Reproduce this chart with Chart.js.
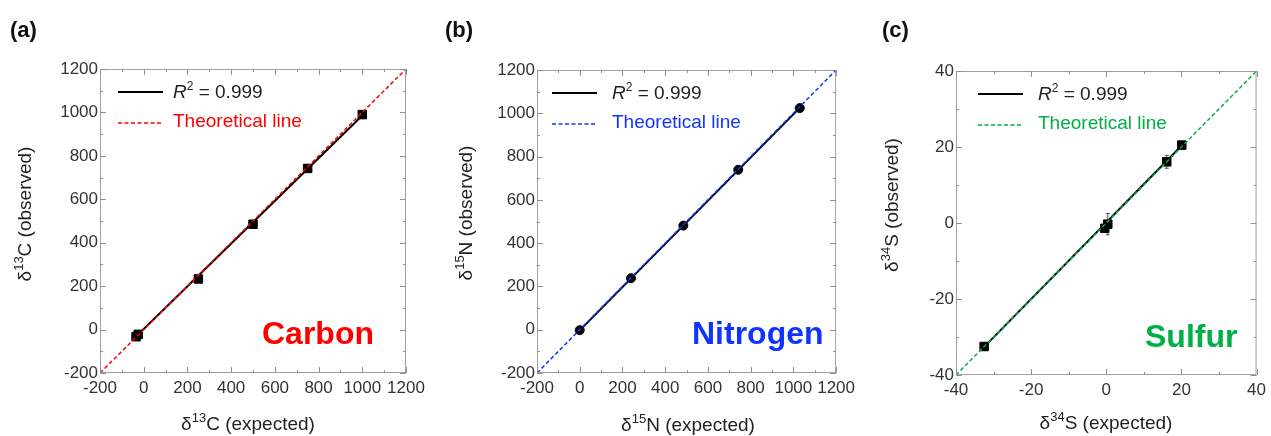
<!DOCTYPE html>
<html>
<head>
<meta charset="utf-8">
<script src="https://cdn.jsdelivr.net/npm/chart.js@4.4.0/dist/chart.umd.min.js"></script>
<style>
  body { margin: 0; background: #fff; width: 1271px; height: 436px; overflow: hidden; position: relative; }
  canvas { position: absolute; top: 0; }
</style>
</head>
<body>
<canvas id="chartC" width="430" height="436" style="left:0"></canvas>
<canvas id="chartN" width="430" height="436" style="left:430px"></canvas>
<canvas id="chartS" width="411" height="436" style="left:860px"></canvas>
<script>
// --- data ---
const carbonX = [-35, -25, 250, 500, 750, 1000];
const carbonY = [-33, -22, 233, 485, 742, 990];
const carbonErr = [6, 6, 15, 8, 8, 15];
const carbonFitX = [-35, 1000];
const carbonFitY = [-32, 986];

const nitrogenX = [0, 240, 485, 742, 1030];
const nitrogenY = [-2, 238, 481, 739, 1024];
const nitrogenErr = [4, 4, 4, 4, 4];
const nitrogenFitX = [0, 1030];
const nitrogenFitY = [-3, 1025];

const sulfurX = [-32.5, -0.4, 0.4, 16.1, 20.1];
const sulfurY = [-32.5, -1.4, -0.3, 16.1, 20.5];
const sulfurErr = [1, 1, 2.8, 1.7, 0.6];
const sulfurFitX = [-32.5, 20.3];
const sulfurFitY = [-32.6, 20.6];

const deltaRange = [-200, 1200];   // carbon / nitrogen axes
const deltaStep = [100, 200];      // minor, major
const sulfurRange = [-40, 40];
const sulfurStep = [10, 20];

const r2Text = "0.999";
const theoText = "Theoretical line";

const FONT = "'Liberation Sans', Arial, Helvetica, sans-serif";
Chart.defaults.font.family = FONT;

function pts(xs, ys) { return xs.map((x, i) => ({ x: x, y: ys[i] })); }

// draw text made of parts (normal / italic / superscript)
function richText(ctx, parts, x, y, align) {
  let w = 0;
  parts.forEach(p => { ctx.font = p.font; w += ctx.measureText(p.t).width; });
  let cx = align === "center" ? x - w / 2 : x;
  ctx.textBaseline = "middle";
  ctx.textAlign = "left";
  parts.forEach(p => {
    ctx.font = p.font;
    ctx.fillText(p.t, cx, y + (p.dy || 0));
    cx += ctx.measureText(p.t).width;
  });
}

function isoParts(mass, elem, rest, size) {
  return [
    { t: "\u03B4", font: size + "px " + FONT },
    { t: mass, font: Math.round(size * 0.66) + "px " + FONT, dy: -size * 0.33 },
    { t: elem + " " + rest, font: size + "px " + FONT }
  ];
}

function makePanel(id, p) {
  const decoPlugin = {
    id: "deco" + id,
    beforeDatasetsDraw(chart) {
      const ctx = chart.ctx, xs = chart.scales.x, ys = chart.scales.y;
      ctx.save();
      ctx.strokeStyle = "#555";
      ctx.lineWidth = 1;
      p.xs.forEach((x, i) => {
        const px = xs.getPixelForValue(x);
        const y1 = ys.getPixelForValue(p.ys[i] - p.errs[i]);
        const y2 = ys.getPixelForValue(p.ys[i] + p.errs[i]);
        ctx.beginPath();
        ctx.moveTo(px, y1); ctx.lineTo(px, y2);
        ctx.moveTo(px - 2, y1); ctx.lineTo(px + 2, y1);
        ctx.moveTo(px - 2, y2); ctx.lineTo(px + 2, y2);
        ctx.stroke();
      });
      ctx.restore();
    },
    afterDraw(chart) {
      const ctx = chart.ctx, a = chart.chartArea;
      const xs = chart.scales.x, ys = chart.scales.y;
      ctx.save();
      // frame
      ctx.strokeStyle = "#a0a0a0";
      ctx.lineWidth = 1;
      ctx.strokeRect(a.left + 0.5, a.top + 0.5, a.right - a.left - 1, a.bottom - a.top - 1);
      // inward ticks on all four sides
      ctx.strokeStyle = "#909090";
      ctx.beginPath();
      xs.ticks.forEach(t => {
        const len = t.value % p.step[1] === 0 ? 6 : 3;
        const px = Math.round(xs.getPixelForValue(t.value)) + 0.5;
        ctx.moveTo(px, a.bottom); ctx.lineTo(px, a.bottom - len);
        ctx.moveTo(px, a.top); ctx.lineTo(px, a.top + len);
      });
      ys.ticks.forEach(t => {
        const len = t.value % p.step[1] === 0 ? 6 : 3;
        const py = Math.round(ys.getPixelForValue(t.value)) + 0.5;
        ctx.moveTo(a.left, py); ctx.lineTo(a.left + len, py);
        ctx.moveTo(a.right, py); ctx.lineTo(a.right - len, py);
      });
      ctx.stroke();

      // legend
      const ly1 = a.top + 23, ly2 = a.top + 54;
      ctx.strokeStyle = "#000";
      ctx.lineWidth = 2;
      ctx.beginPath();
      ctx.moveTo(a.left + p.legX, ly1); ctx.lineTo(a.left + p.legX + 45, ly1);
      ctx.stroke();
      ctx.strokeStyle = p.color;
      ctx.lineWidth = 1.5;
      ctx.setLineDash([4, 2.5]);
      ctx.beginPath();
      ctx.moveTo(a.left + p.legX, ly2); ctx.lineTo(a.left + p.legX + 45, ly2);
      ctx.stroke();
      ctx.setLineDash([]);
      ctx.fillStyle = "#222";
      richText(ctx, [
        { t: "R", font: "italic 19px " + FONT },
        { t: "2", font: "12px " + FONT, dy: -6 },
        { t: " = " + r2Text, font: "19px " + FONT }
      ], a.left + p.legTextX, ly1 + 1, "left");
      ctx.fillStyle = p.color;
      richText(ctx, [{ t: theoText, font: "19px " + FONT }], a.left + p.legTextX, ly2 - 1, "left");

      // element label
      ctx.fillStyle = p.color;
      richText(ctx, [{ t: p.element, font: "bold 32px " + FONT }], p.elemX, p.elemY, "left");

      // axis titles
      ctx.fillStyle = "#222";
      richText(ctx, isoParts(p.mass, p.sym, "(expected)", 19), p.xTitleX, p.xTitleY, "center");
      ctx.save();
      ctx.translate(p.yTitleX, p.yTitleY);
      ctx.rotate(-Math.PI / 2);
      richText(ctx, isoParts(p.mass, p.sym, "(observed)", 19), 0, 0, "center");
      ctx.restore();

      // panel label
      ctx.fillStyle = "#111";
      richText(ctx, [{ t: p.panel, font: "bold 22px " + FONT }], p.panelX, 31, "left");
      ctx.restore();
    }
  };

  const tickCb = v => (v % p.step[1] === 0 ? String(v) : "");
  const axis = (which) => ({
    type: "linear",
    min: p.range[0],
    max: p.range[1],
    grid: { display: false, drawTicks: false },
    border: { display: false },
    afterFit: which === "x" ? (s => { s.height = p.xH; }) : (s => { s.width = p.yW; }),
    ticks: {
      stepSize: p.step[0],
      autoSkip: false,
      maxRotation: 0,
      padding: which === "x" ? 5 : 2,
      color: "#333",
      font: { size: 17 },
      callback: tickCb
    }
  });

  return new Chart(document.getElementById(id), {
    type: "scatter",
    data: {
      datasets: [
        {
          data: pts(p.range, p.range),
          showLine: true,
          borderColor: p.color,
          borderWidth: 1.5,
          borderDash: [4, 2.5],
          pointRadius: 0
        },
        {
          data: pts(p.fitX, p.fitY),
          showLine: true,
          borderColor: "#000",
          borderWidth: 2,
          pointRadius: 0
        },
        {
          data: pts(p.xs, p.ys),
          pointStyle: p.marker,
          pointRadius: p.marker === "rect" ? 6 : 4.5,
          backgroundColor: "#000",
          borderColor: "#000",
          borderWidth: 1
        }
      ]
    },
    options: {
      responsive: false,
      animation: false,
      layout: { padding: { left: 0, top: p.top, right: p.padR, bottom: 0 } },
      plugins: { legend: { display: false }, tooltip: { enabled: false } },
      scales: { x: axis("x"), y: axis("y") }
    },
    plugins: [decoPlugin]
  });
}

makePanel("chartC", {
  xs: carbonX, ys: carbonY, errs: carbonErr, fitX: carbonFitX, fitY: carbonFitY,
  range: deltaRange, step: deltaStep, color: "#ff0000", marker: "rect",
  element: "Carbon", mass: "13", sym: "C", panel: "(a)", panelX: 10,
  top: 69, padR: 24, yW: 100, xH: 63,
  legX: 18, legTextX: 73, elemX: 262, elemY: 335,
  xTitleX: 248, xTitleY: 425, yTitleX: 26, yTitleY: 214
});

makePanel("chartN", {
  xs: nitrogenX, ys: nitrogenY, errs: nitrogenErr, fitX: nitrogenFitX, fitY: nitrogenFitY,
  range: deltaRange, step: deltaStep, color: "#1034ff", marker: "circle",
  element: "Nitrogen", mass: "15", sym: "N", panel: "(b)", panelX: 15,
  top: 70, padR: 19, yW: 107, xH: 63,
  legX: 15, legTextX: 75, elemX: 262, elemY: 335,
  xTitleX: 258, xTitleY: 426, yTitleX: 37, yTitleY: 213
});

makePanel("chartS", {
  xs: sulfurX, ys: sulfurY, errs: sulfurErr, fitX: sulfurFitX, fitY: sulfurFitY,
  range: sulfurRange, step: sulfurStep, color: "#00b045", marker: "rect",
  element: "Sulfur", mass: "34", sym: "S", panel: "(c)", panelX: 22,
  top: 71, padR: 12, yW: 96, xH: 61,
  legX: 22, legTextX: 82, elemX: 285, elemY: 338,
  xTitleX: 246, xTitleY: 424, yTitleX: 33, yTitleY: 205
});
</script>
</body>
</html>
